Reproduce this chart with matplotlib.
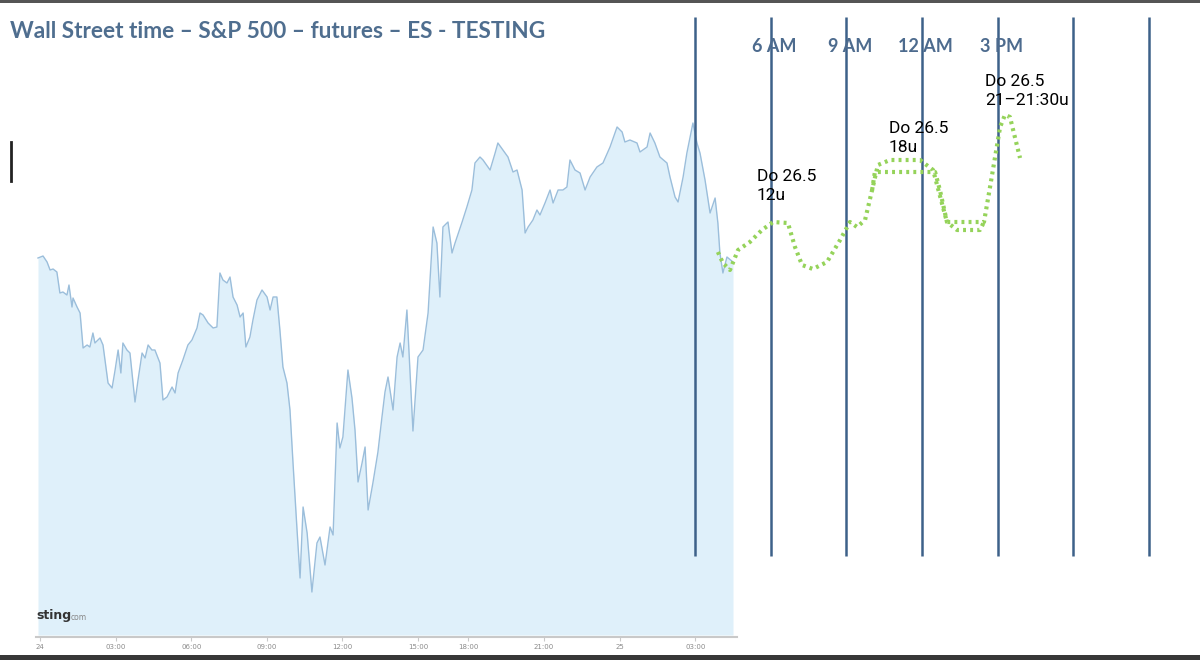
import matplotlib.pyplot as plt
from matplotlib.patches import Rectangle
from matplotlib.lines import Line2D

# trading hours since 00:00 on the 24th (the 17-18h halt is squeezed out)
PRICE_T = [
    -0.08, 0.12, 0.28, 0.40, 0.52, 0.67, 0.79, 0.91, 1.07, 1.15, 1.27, 1.31, 1.47, 1.59, 1.71,
    1.87, 1.98, 2.10, 2.18, 2.38, 2.50, 2.70, 2.86, 2.98, 3.10, 3.21, 3.29, 3.45, 3.57, 3.77,
    3.89, 4.05, 4.17, 4.29, 4.44, 4.56, 4.76, 4.88, 5.04, 5.24, 5.36, 5.48, 5.67, 5.87, 6.03,
    6.23, 6.35, 6.47, 6.67, 6.87, 7.02, 7.14, 7.26, 7.42, 7.54, 7.66, 7.82, 7.94, 8.06, 8.17,
    8.33, 8.45, 8.61, 8.81, 9.01, 9.13, 9.25, 9.40, 9.52, 9.64, 9.80, 9.92, 10.04, 10.20, 10.32,
    10.44, 10.60, 10.79, 10.99, 11.11, 11.31, 11.51, 11.63, 11.79, 11.90, 12.02, 12.22, 12.38, 12.50, 12.62,
    12.78, 12.90, 13.02, 13.21, 13.41, 13.57, 13.69, 13.81, 14.01, 14.17, 14.29, 14.40, 14.56, 14.80, 15.00,
    15.20, 15.40, 15.60, 15.75, 15.87, 15.99, 16.19, 16.35, 16.47, 16.75, 16.94, 17.14, 17.26, 17.46, 17.58,
    17.86, 18.06, 18.17, 18.37, 18.57, 18.77, 18.93, 19.13, 19.25, 19.37, 19.56, 19.72, 19.84, 20.04, 20.24,
    20.36, 20.56, 20.75, 20.91, 21.03, 21.23, 21.43, 21.63, 21.83, 22.10, 22.34, 22.62, 22.90, 23.10, 23.21,
    23.41, 23.69, 23.81, 24.09, 24.21, 24.40, 24.60, 24.88, 25.00, 25.20, 25.32, 25.52, 25.67, 25.91, 26.07,
    26.19, 26.39, 26.59, 26.79, 26.90, 26.98, 27.10, 27.26, 27.50,
]
PRICE_LEVEL = [
    382, 384, 378, 370, 371, 368, 347, 348, 345, 355, 333, 342, 333, 327, 292,
    295, 293, 307, 297, 302, 295, 257, 252, 270, 290, 267, 297, 290, 287, 238,
    260, 287, 282, 295, 290, 290, 277, 240, 243, 253, 247, 267, 280, 295, 300,
    312, 327, 325, 317, 312, 313, 367, 360, 357, 363, 343, 335, 323, 327, 293,
    303, 320, 340, 350, 343, 330, 343, 343, 310, 273, 257, 230, 177, 110, 62,
    133, 107, 48, 97, 103, 75, 113, 105, 217, 192, 203, 270, 242, 210, 158,
    177, 193, 130, 157, 188, 223, 248, 263, 230, 283, 297, 283, 330, 209, 283,
    290, 327, 413, 397, 343, 413, 418, 387, 397, 418, 433, 450, 477, 483, 480,
    470, 487, 497, 490, 483, 468, 470, 450, 407, 413, 420, 430, 425, 437, 450,
    437, 450, 450, 453, 480, 470, 467, 450, 463, 473, 477, 493, 513, 508, 498,
    500, 497, 488, 493, 507, 497, 483, 477, 463, 443, 438, 463, 487, 517, 497,
    487, 460, 427, 442, 417, 387, 367, 383, 378,
]

TICK_T = [0, 3, 6, 9, 12, 15, 17, 20, 23, 26]
TICK_LABELS = ['24', '03:00', '06:00', '09:00', '12:00', '15:00', '18:00', '21:00', '25', '03:00']

# hand drawn forecast for the 25th
FORECAST_T = [
    26.90, 27.10, 27.38, 27.70, 28.17, 28.65, 29.09, 29.68, 29.96, 30.24, 30.67, 31.23, 31.75,
    32.14, 32.42, 32.74, 33.02, 33.25, 33.73, 34.92, 35.44, 35.83, 35.99, 37.46, 37.70, 38.10,
    38.29, 38.49, 38.89,
]
FORECAST_LEVEL = [
    388, 377, 370, 390, 398, 410, 418, 417, 393, 375, 371, 378, 400,
    418, 413, 420, 450, 475, 480, 480, 470, 433, 418, 418, 453, 513,
    525, 523, 482,
]
FORECAST_LOW_T = [33.02, 33.13, 35.52, 35.71, 35.99, 36.39, 37.30, 37.46]
FORECAST_LOW_LEVEL = [450, 468, 468, 450, 418, 410, 410, 418]

SESSION_T = [26, 29, 32, 35, 38, 41, 44]
SESSION_LABELS = ['', '6 AM', '9 AM', '12 AM', '3 PM', '', '']

NOTES = [
    (28.45, 471, 'Do 26.5\n12u'),
    (33.69, 519, 'Do 26.5\n18u'),
    (37.50, 566, 'Do 26.5\n21\u201321:30u'),
]

W, H = 1200, 660
PX_T0, PX_PER_H = 40, 25.2


def t_at(px):
    return (px - PX_T0) / PX_PER_H


fig = plt.figure(figsize=(12, 6.6), dpi=100)

# price chart
left, right, bottom, top = 36, 737, 637, 80
ax = fig.add_axes([left / W, (H - bottom) / H, (right - left) / W, (bottom - top) / H])
ax.set_xlim(t_at(left), t_at(right))
ax.set_ylim(640 - bottom, 640 - top)
ax.fill_between(PRICE_T, PRICE_LEVEL, 640 - 635, color='#dff0fa', lw=0)
ax.plot(PRICE_T, PRICE_LEVEL, color='#9bbedb', lw=1.0)
for side in ['top', 'right', 'left']:
    ax.spines[side].set_visible(False)
ax.spines['bottom'].set_color('#c9c9c9')
ax.spines['bottom'].set_linewidth(1.5)
ax.set_yticks([])
ax.set_xticks(TICK_T)
ax.set_xticklabels(TICK_LABELS, fontsize=5, color='#8a8a8a', family='Liberation Sans Narrow')
ax.tick_params(axis='x', length=3, color='#c9c9c9', pad=2)
ax.patch.set_visible(False)

# overlay with session lines and forecast
ov = fig.add_axes([0, 0, 1, 1])
ov.set_xlim(t_at(0), t_at(W))
ov.set_ylim(640 - H, 640)
ov.axis('off')
ov.vlines(SESSION_T, 640 - 556, 640 - 17, color='#3d6189', lw=1.8)
for t, lab in zip(SESSION_T, SESSION_LABELS):
    ov.text(t + 0.15, 640 - 47, lab, ha='center', va='center', fontsize=13,
            fontweight='bold', color='#4d6b8e', family='Lato')
ov.plot(FORECAST_T, FORECAST_LEVEL, color='#95d35a', lw=3, ls=(0, (0.7, 1.0)))
ov.plot(FORECAST_LOW_T, FORECAST_LOW_LEVEL, color='#95d35a', lw=3, ls=(0, (0.7, 1.0)))
for t, lev, txt in NOTES:
    ov.text(t, lev, txt, ha='left', va='top', fontsize=12.5, color='black',
            family='Roboto', linespacing=1.35)

fig.text(10 / W, 1 - 32 / H, 'Wall Street time \u2013 S&P 500 \u2013 futures \u2013 ES - TESTING',
         fontsize=16.3, fontweight='bold', color='#4f6e8f', va='center', family='Lato')
fig.text(36 / W, 1 - 615 / H, 'sting', fontsize=9, fontweight='bold', color='#333333',
         va='center', family='Liberation Sans Narrow')
fig.text(71 / W, 1 - 617 / H, 'com', fontsize=5.5, color='#888888', va='center')

# screenshot frame bits
fig.add_artist(Rectangle((0, 1 - 3 / H), 1, 3 / H, transform=fig.transFigure, color='#555555', lw=0))
fig.add_artist(Rectangle((0, 0), 1, 5 / H, transform=fig.transFigure, color='#383838', lw=0))
fig.add_artist(Line2D([11 / W, 11 / W], [1 - 142 / H, 1 - 181 / H], transform=fig.transFigure,
                      color='#222222', lw=2))

fig.savefig('out.png', dpi=100)
